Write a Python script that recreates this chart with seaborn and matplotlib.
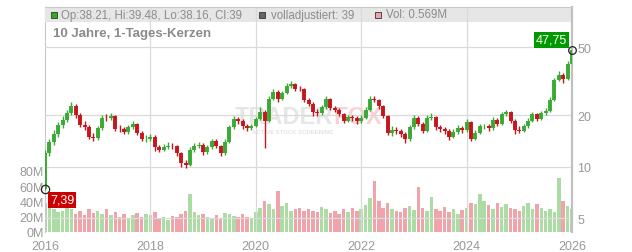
import numpy as np
import pandas as pd
import matplotlib
matplotlib.use("Agg")
import matplotlib.pyplot as plt
import seaborn as sns
from matplotlib.patches import Rectangle

# ---------------- data (monthly candles) ----------------
first_open = 7.39
closes = [12.0, 14.0, 15.5, 17.5, 18.8, 20.5, 22.5, 20.0, 17.5, 17.0, 15.0, 14.8,
          16.8, 19.4, 19.2, 19.8, 16.7, 16.6, 16.0, 17.0, 17.8, 15.8, 14.5, 14.6,
          15.0, 13.0, 12.6, 13.0, 13.3, 13.2, 12.0, 10.5, 10.3, 12.5, 13.2, 13.5,
          12.2, 13.0, 14.2, 13.2, 12.0, 14.0, 17.0, 19.0, 18.5, 17.2, 16.8, 17.3,
          19.0, 21.0, 18.5, 25.0, 27.5, 24.8, 27.0, 29.8, 30.4, 28.5, 28.4, 24.5,
          23.4, 21.0, 20.5, 22.2, 24.8, 22.0, 21.4, 20.3, 18.6, 19.5, 19.2, 18.5,
          19.3, 21.5, 24.8, 24.6, 22.5, 19.8, 15.8, 16.5, 16.2, 15.6, 14.5, 17.0,
          19.4, 17.8, 16.2, 19.3, 19.5, 17.0, 16.6, 16.2, 15.0, 16.0, 16.8, 16.3,
          18.2, 14.6, 15.8, 17.2, 17.2, 16.8, 18.8, 17.8, 20.3, 20.8, 18.5, 16.5,
          16.2, 17.2, 18.6, 20.3, 19.0, 20.6, 21.2, 24.5, 32.0, 34.5, 32.5, 40.0,
          47.75]
highs = [12.6, 14.6, 16.3, 18.3, 19.8, 21.5, 23.8, 23.2, 20.6, 18.6, 17.5, 15.8,
         17.4, 20.2, 20.3, 20.6, 20.1, 17.5, 17.1, 17.6, 18.6, 18.1, 16.2, 15.3,
         15.6, 15.3, 13.5, 13.6, 13.9, 13.8, 13.5, 12.2, 10.9, 13.0, 13.7, 14.0,
         13.8, 13.5, 14.6, 14.5, 13.5, 14.5, 17.6, 19.9, 19.6, 18.9, 17.7, 17.9,
         19.6, 22.2, 21.5, 25.8, 28.6, 28.0, 27.8, 30.8, 31.5, 31.0, 29.6, 28.8,
         25.3, 23.9, 21.8, 23.0, 25.8, 25.2, 22.7, 22.0, 20.7, 20.2, 20.1, 19.7,
         20.0, 22.2, 25.9, 25.8, 25.0, 22.9, 20.1, 17.2, 17.1, 16.7, 16.0, 17.6,
         20.2, 19.9, 18.2, 20.0, 20.5, 19.9, 17.6, 17.1, 16.6, 16.6, 17.5, 17.3,
         18.9, 18.6, 16.4, 17.9, 17.9, 17.8, 19.5, 19.3, 21.0, 21.6, 21.2, 18.9,
         17.2, 17.8, 19.3, 21.0, 20.7, 21.3, 22.0, 25.5, 33.0, 36.0, 35.2, 41.3,
         48.5]
lows = [7.3, 11.6, 13.5, 15.0, 16.9, 18.2, 20.0, 19.4, 17.0, 16.3, 14.5, 14.2,
        14.4, 16.4, 18.6, 18.7, 16.2, 16.0, 15.6, 15.6, 16.6, 15.3, 14.1, 14.0,
        14.2, 12.3, 12.2, 12.3, 12.7, 12.7, 11.5, 10.0, 9.8, 10.1, 12.2, 12.8,
        11.8, 11.9, 12.7, 12.9, 11.6, 11.8, 13.8, 16.7, 17.8, 16.6, 16.2, 16.4,
        17.0, 18.7, 12.8, 18.2, 24.6, 24.0, 24.4, 26.6, 29.0, 27.8, 27.6, 23.8,
        22.8, 19.8, 19.9, 20.1, 21.9, 21.4, 20.8, 19.7, 18.1, 18.2, 18.6, 17.9,
        18.1, 19.0, 21.2, 23.8, 21.8, 19.2, 15.3, 15.1, 15.6, 15.0, 13.8, 14.2,
        16.7, 17.2, 15.7, 16.0, 18.7, 16.5, 16.0, 15.6, 14.3, 14.7, 15.6, 15.8,
        16.0, 14.1, 14.3, 15.5, 16.6, 16.2, 16.5, 17.2, 17.5, 19.8, 18.0, 15.6,
        15.7, 15.9, 16.9, 18.3, 18.5, 18.7, 20.2, 20.9, 24.2, 31.5, 30.8, 32.0,
        39.5]
volumes_m = [38, 32, 30, 26, 28, 35, 30, 24, 28, 22, 30, 25,
             27, 24, 30, 22, 26, 20, 24, 18, 22, 25, 20, 23,
             22, 26, 18, 20, 16, 21, 19, 24, 28, 50, 26, 22,
             24, 20, 18, 22, 17, 25, 23, 21, 19, 24, 20, 18,
             26, 32, 40, 36, 30, 54, 34, 38, 28, 30, 32, 27,
             30, 28, 26, 33, 30, 25, 28, 24, 30, 26, 32, 28,
             30, 35, 45, 67, 40, 32, 38, 30, 28, 26, 31, 34,
             29, 59, 32, 28, 46, 30, 27, 33, 26, 30, 24, 29,
             31, 38, 36, 50, 40, 35, 30, 38, 33, 36, 32, 30,
             28, 34, 38, 30, 36, 32, 28, 30, 26, 71, 40, 34,
             30]
start_year = 2016
year_ticks = [2016, 2018, 2020, 2022, 2024, 2026]
price_ticks = [5, 10, 20, 50]
vol_ticks = [0, 20, 40, 60, 80]
vol_tick_labels = ["0M", "20M", "40M", "60M", "80M"]
title = "10 Jahre, 1-Tages-Kerzen"
legend_ohlc = "Op:38.21, Hi:39.48, Lo:38.16, Cl:39"
legend_adj = "volladjustiert: 39"
legend_vol = "Vol: 0.569M"
last_label = "47,75"
first_label = "7,39"

# ---------------- frame ----------------
opens = [first_open] + closes[:-1]
dates = [start_year + i / 12 for i in range(len(closes))]
df = pd.DataFrame({"date": dates, "open": opens, "close": closes,
                   "high": highs, "low": lows, "volume": volumes_m})
df["dir"] = np.where(df["close"] >= df["open"], "up", "down")

sns.set_style("white")
plt.rcParams["font.family"] = ["Liberation Sans", "DejaVu Sans"]

W, H = 632, 253
fig = plt.figure(figsize=(W / 100, H / 100), dpi=100)
L, R, T, B = 45, 572, 8, 233
ax_vol = fig.add_axes([L / W, 1 - B / H, (R - L) / W, (B - T) / H])

GREEN, RED = "#3aaa35", "#c4161c"
VGREEN, VRED = "#abdca3", "#f0a3ab"
GRID = "#dadada"
TXT = "#999999"

# volume bars
sns.barplot(data=df, x="date", y="volume", hue="dir",
            palette={"up": VGREEN, "down": VRED}, native_scale=True,
            dodge=False, width=0.8, legend=False, errorbar=None,
            saturation=1, linewidth=0, ax=ax_vol)
ax_vol.set_xlim(2016, 2026)
ax_vol.set_ylim(0, 294)
ax_vol.set_xlabel("")
ax_vol.set_ylabel("")
ax_vol.set_yticks(vol_ticks)
ax_vol.set_yticklabels(vol_tick_labels)
ax_vol.set_xticks(year_ticks)
ax_vol.set_xticklabels([str(y) for y in year_ticks])
ax_vol.tick_params(axis="both", colors=TXT, labelsize=9, length=0)
ax_vol.tick_params(axis="y", pad=1)
ax_vol.tick_params(axis="x", pad=5.5)

# watermark (under candles)
ax_vol.text(235 / W, 1 - 118 / H, "TRADER", transform=fig.transFigure,
            fontsize=17, fontweight="bold", color="#e6e6e6", ha="left",
            va="center", zorder=0.2)
ax_vol.text(333 / W, 1 - 118 / H, "FOX", transform=fig.transFigure,
            fontsize=17, fontweight="bold", color="#f9d2d2", ha="left",
            va="center", zorder=0.2)
ax_vol.text(252 / W, 1 - 132 / H, "ACTIVE STOCK SCREENING",
            transform=fig.transFigure, fontsize=4.3, fontweight="bold",
            color="#e3e3e3", ha="left", va="center", zorder=0.2)

# price axis
ax_p = ax_vol.twinx()
ax_p.set_yscale("log")
ax_p.set_ylim(4.17, 85.6)
ax_p.set_xlim(2016, 2026)
ax_p.set_yticks(price_ticks)
ax_p.set_yticklabels([str(p) for p in price_ticks])
ax_p.yaxis.set_minor_locator(matplotlib.ticker.NullLocator())
ax_p.tick_params(axis="y", colors=TXT, labelsize=9, length=0, pad=4)

# legend bar
ax_p.add_patch(Rectangle((0, 1 - 15 / 225), 1, 15 / 225, transform=ax_p.transAxes,
                         facecolor="#e6e6e6", edgecolor="none", zorder=0.5))
for p in price_ticks:
    ax_p.axhline(p, color=GRID, lw=0.9, zorder=1)
for y in year_ticks[1:-1]:
    ax_p.axvline(y, color=GRID, lw=0.9, zorder=1)

# candles
for d, col in (("up", GREEN), ("down", RED)):
    sub = df[df["dir"] == d]
    ax_p.vlines(sub["date"], sub["low"], sub["high"], color=col, lw=1.0, zorder=3)
    ax_p.vlines(sub["date"], sub[["open", "close"]].min(axis=1),
                sub[["open", "close"]].max(axis=1), color=col, lw=2.8, zorder=3)

# end markers
ax_p.plot([df["date"].iloc[-1]], [df["close"].iloc[-1]], marker="o", ms=5.5,
          mfc="none", mec="#222222", mew=0.9, clip_on=False, zorder=5)
ax_p.plot([df["date"].iloc[0]], [df["open"].iloc[0]], marker="o", ms=6,
          mfc="none", mec="#222222", mew=0.9, clip_on=False, zorder=5)

# spines
for a in (ax_vol, ax_p):
    for s in a.spines.values():
        s.set_visible(False)
ax_vol.spines["left"].set_visible(True)
ax_vol.spines["left"].set_color("#c8c8c8")
ax_p.spines["right"].set_visible(True)
ax_p.spines["right"].set_color("#c0c0c0")
ax_p.spines["right"].set_linewidth(1.6)
ax_p.spines["top"].set_visible(True)
ax_p.spines["top"].set_color("#c8c8c8")

# legend items
def fx(x):
    return x / W

def fy(y):
    return 1 - y / H

fig.add_artist(Rectangle((fx(51), fy(18.5)), 6 / W, 6 / H, transform=fig.transFigure,
                         facecolor="#33aa22", edgecolor="#333333", lw=0.6))
fig.text(fx(61), fy(15.5), legend_ohlc, fontsize=8.3, color="#8c8c8c",
         ha="left", va="center")
fig.add_artist(Rectangle((fx(259), fy(18.5)), 6 / W, 6 / H, transform=fig.transFigure,
                         facecolor="#666666", edgecolor="#333333", lw=0.6))
fig.text(fx(271), fy(15.5), legend_adj, fontsize=8.3, color="#8c8c8c",
         ha="left", va="center")
fig.add_artist(Rectangle((fx(375), fy(18.5)), 6 / W, 6 / H, transform=fig.transFigure,
                         facecolor="#f0a3ab", edgecolor="#333333", lw=0.6))
fig.text(fx(386), fy(15.5), legend_vol, fontsize=8.3, color="#8c8c8c",
         ha="left", va="center")

# title
fig.text(fx(53), fy(34), title, fontsize=9.5, fontweight="bold", color="#8a8a8a",
         ha="left", va="center")

# value labels
fig.text(fx(567), fy(41), last_label, fontsize=9, color="white", ha="right",
         va="center", bbox=dict(boxstyle="square,pad=0.15", fc="#009a00", ec="none"))
fig.text(fx(50), fy(201), first_label, fontsize=9, color="white", ha="left",
         va="center", bbox=dict(boxstyle="square,pad=0.15", fc="#cc0000", ec="none"))

fig.savefig("out.png", dpi=100)
